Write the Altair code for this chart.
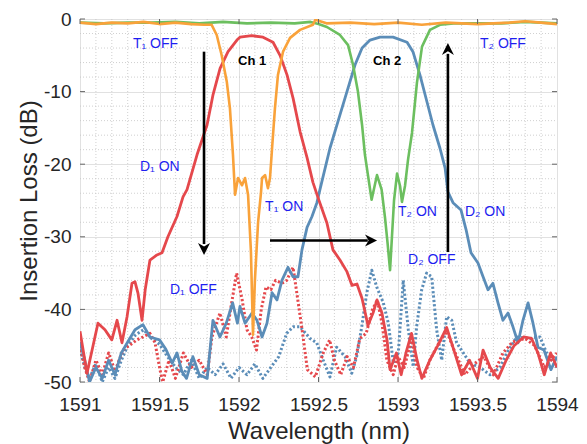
import altair as alt
import pandas as pd

# ---------------- data ----------------
# D1 ON (red solid)
d1on_x = [1591.000, 1591.044, 1591.082, 1591.113, 1591.157, 1591.200, 1591.233, 1591.264, 1591.296,
          1591.327, 1591.346, 1591.365, 1591.390, 1591.410, 1591.440, 1591.484, 1591.516, 1591.553,
          1591.610, 1591.648, 1591.673, 1591.736, 1591.799, 1591.836, 1591.881, 1591.931, 1591.987,
          1592.006, 1592.080, 1592.151, 1592.214, 1592.258, 1592.302, 1592.340, 1592.384, 1592.428,
          1592.465, 1592.497, 1592.553, 1592.591, 1592.635, 1592.679, 1592.711, 1592.742, 1592.774,
          1592.811, 1592.843, 1592.868, 1592.899, 1592.931, 1592.950, 1592.990, 1593.020, 1593.050,
          1593.085, 1593.120, 1593.150, 1593.200, 1593.250, 1593.306, 1593.350, 1593.400, 1593.450,
          1593.500, 1593.535, 1593.580, 1593.630, 1593.680, 1593.730, 1593.790, 1593.840, 1593.880,
          1593.920, 1593.960, 1594.000]
d1on_y = [-43.0, -48.8, -45.0, -41.9, -42.8, -44.2, -41.5, -44.6, -41.0,
          -36.4, -36.2, -37.8, -41.5, -37.3, -33.2, -32.5, -32.2, -30.0,
          -27.2, -24.5, -23.5, -18.7, -14.6, -10.5, -6.8, -4.5, -2.9,
          -2.5, -2.3, -2.5, -3.2, -5.0, -7.7, -10.9, -15.5, -19.1,
          -22.5, -24.6, -28.1, -31.8, -33.2, -34.8, -36.7, -36.5, -38.5,
          -42.2, -40.5, -38.7, -40.5, -44.2, -48.3, -46.0, -49.0, -46.0,
          -43.3, -47.0, -49.5, -47.0, -45.0, -42.5, -45.5, -49.0, -47.0,
          -49.5, -45.6, -48.0, -49.5, -47.0, -45.0, -43.8, -44.0, -46.0,
          -49.0, -46.0, -48.0]

# D1 OFF (red dotted)
d1off_x = [1591.000, 1591.030, 1591.060, 1591.100, 1591.140, 1591.180, 1591.220, 1591.270, 1591.358,
           1591.396, 1591.440, 1591.472, 1591.503, 1591.520, 1591.560, 1591.600, 1591.650, 1591.700,
           1591.750, 1591.800, 1591.830, 1591.880, 1591.920, 1591.950, 1591.985, 1592.020, 1592.050,
           1592.080, 1592.110, 1592.140, 1592.170, 1592.200, 1592.230, 1592.270, 1592.300, 1592.340,
           1592.370, 1592.400, 1592.430, 1592.480, 1592.530, 1592.570, 1592.600, 1592.640, 1592.680,
           1592.720, 1592.760, 1592.800, 1592.840, 1592.870, 1592.900, 1592.930, 1592.970, 1593.000,
           1593.040, 1593.085, 1593.120, 1593.160, 1593.200, 1593.260, 1593.306, 1593.360, 1593.420,
           1593.480, 1593.540, 1593.600, 1593.660, 1593.720, 1593.800, 1593.860, 1593.920, 1594.000]
d1off_y = [-45.0, -48.0, -50.0, -47.0, -49.0, -46.0, -48.5, -45.6, -44.2,
           -43.8, -43.3, -44.6, -48.3, -50.0, -47.0, -49.5, -46.0, -48.0,
           -47.0, -49.0, -43.8, -40.5, -43.8, -39.6, -35.0, -38.7, -42.8,
           -43.8, -45.6, -40.0, -36.9, -37.3, -36.0, -36.4, -36.0, -34.2,
           -38.7, -43.3, -48.3, -49.3, -46.0, -44.2, -47.0, -49.0, -46.5,
           -48.0, -44.0, -43.3, -40.0, -38.7, -42.0, -47.0, -49.0, -46.5,
           -48.0, -44.0, -48.0, -49.5, -47.0, -44.5, -43.0, -46.0, -49.0,
           -47.5, -46.5, -49.0, -46.0, -44.5, -44.0, -45.0, -48.0, -46.0]

# D2 ON (blue solid)
d2on_x = [1591.000, 1591.030, 1591.060, 1591.100, 1591.140, 1591.180, 1591.220, 1591.260, 1591.300,
          1591.346, 1591.396, 1591.440, 1591.500, 1591.540, 1591.580, 1591.610, 1591.640, 1591.670,
          1591.710, 1591.750, 1591.800, 1591.836, 1591.880, 1591.920, 1591.960, 1591.990, 1592.006,
          1592.038, 1592.082, 1592.113, 1592.145, 1592.176, 1592.208, 1592.239, 1592.270, 1592.308,
          1592.340, 1592.371, 1592.396, 1592.428, 1592.459, 1592.490, 1592.509, 1592.572, 1592.635,
          1592.679, 1592.730, 1592.774, 1592.824, 1592.887, 1592.969, 1593.057, 1593.094, 1593.138,
          1593.182, 1593.220, 1593.264, 1593.296, 1593.314, 1593.346, 1593.396, 1593.428, 1593.459,
          1593.503, 1593.535, 1593.566, 1593.597, 1593.629, 1593.660, 1593.692, 1593.723, 1593.755,
          1593.786, 1593.818, 1593.849, 1593.880, 1593.918, 1593.962, 1594.000]
d2on_y = [-44.5, -47.0, -50.0, -48.0, -49.5, -47.0, -49.0, -46.0, -44.5,
          -42.8, -42.1, -43.8, -44.2, -45.5, -47.4, -46.0, -48.5, -49.5,
          -46.5, -49.0, -49.5, -41.5, -43.8, -41.9, -39.1, -41.9, -39.6,
          -41.9, -40.5, -41.5, -43.8, -41.9, -37.7, -38.7, -36.0, -34.2,
          -35.5, -35.5, -31.8, -28.7, -27.2, -25.3, -23.5, -17.8, -13.2,
          -10.0, -6.3, -4.0, -2.9, -2.5, -2.5, -3.2, -4.5, -7.7,
          -11.4, -14.6, -17.8, -20.5, -23.8, -25.3, -26.3, -29.0, -32.2,
          -33.6, -35.5, -37.3, -36.4, -39.1, -41.5, -40.5, -42.4, -44.6,
          -41.5, -39.1, -41.9, -45.2, -45.6, -48.3, -46.5]

# D2 OFF (blue dotted)
d2off_x = [1591.000, 1591.030, 1591.060, 1591.100, 1591.140, 1591.180, 1591.220, 1591.260, 1591.300,
           1591.350, 1591.400, 1591.450, 1591.500, 1591.550, 1591.600, 1591.650, 1591.700, 1591.750,
           1591.800, 1591.850, 1591.900, 1591.950, 1592.000, 1592.050, 1592.100, 1592.150, 1592.200,
           1592.250, 1592.300, 1592.340, 1592.384, 1592.447, 1592.489, 1592.530, 1592.572, 1592.614,
           1592.667, 1592.709, 1592.740, 1592.772, 1592.803, 1592.835, 1592.866, 1592.908, 1592.939,
           1592.971, 1593.002, 1593.033, 1593.065, 1593.096, 1593.117, 1593.149, 1593.180, 1593.212,
           1593.243, 1593.275, 1593.306, 1593.338, 1593.369, 1593.411, 1593.453, 1593.516, 1593.579,
           1593.642, 1593.684, 1593.746, 1593.830, 1593.893, 1593.935, 1594.000]
d2off_y = [-45.5, -48.0, -49.5, -47.5, -50.0, -48.0, -49.5, -47.0, -45.0,
           -43.5, -42.8, -44.0, -44.8, -46.5, -48.0, -49.0, -47.0, -49.5,
           -48.0, -49.0, -47.5, -49.5, -48.0, -49.0, -47.5, -49.5, -48.0,
           -46.5, -43.3, -42.4, -42.4, -44.0, -44.6, -47.0, -49.3, -45.2,
           -46.5, -48.8, -46.5, -42.4, -37.8, -34.6, -36.9, -39.1, -41.9,
           -47.4, -46.0, -36.0, -42.8, -47.9, -42.4, -37.3, -35.0, -35.5,
           -42.8, -47.0, -41.0, -41.5, -44.6, -46.0, -47.4, -48.0, -49.0,
           -48.0, -46.0, -43.8, -44.0, -43.8, -46.0, -48.0]

# T1 (orange)
t1_x = [1591.00, 1591.10, 1591.20, 1591.30, 1591.40, 1591.50, 1591.60, 1591.70, 1591.78,
        1591.828, 1591.860, 1591.891, 1591.923, 1591.943, 1591.962, 1591.975, 1591.994, 1592.019,
        1592.038, 1592.057, 1592.075, 1592.088, 1592.100, 1592.120, 1592.138, 1592.145, 1592.164,
        1592.182, 1592.195, 1592.208, 1592.226, 1592.245, 1592.277, 1592.321, 1592.384, 1592.465,
        1592.480, 1592.550, 1592.700, 1592.850, 1593.000, 1593.150, 1593.300, 1593.500, 1593.700,
        1593.800, 1593.900, 1594.000]
t1_y = [-0.5, -0.7, -0.5, -0.6, -0.4, -0.7, -0.5, -0.7, -0.8,
        -0.8, -2.2, -5.0, -8.6, -12.3, -18.7, -24.2, -21.9, -22.9,
        -21.9, -24.2, -32.0, -43.5, -36.0, -28.0, -24.0, -21.9, -21.5,
        -23.3, -21.9, -17.8, -12.3, -7.7, -4.5, -2.6, -1.5, -0.8,
        -0.1, -0.6, -0.5, -0.7, -0.5, -0.8, -0.5, -0.7, -0.5,
        -0.3, -0.5, -0.7]

# T2 (green)
t2_x = [1591.00, 1591.15, 1591.30, 1591.45, 1591.60, 1591.75, 1591.90, 1592.05, 1592.20,
        1592.35, 1592.45, 1592.50, 1592.553, 1592.635, 1592.686, 1592.717, 1592.748, 1592.774,
        1592.792, 1592.811, 1592.834, 1592.868, 1592.897, 1592.918, 1592.935, 1592.950, 1592.962,
        1592.975, 1592.994, 1593.013, 1593.025, 1593.044, 1593.063, 1593.088, 1593.119, 1593.151,
        1593.201, 1593.264, 1593.350, 1593.500, 1593.650, 1593.800, 1593.900, 1594.000]
t2_y = [-0.5, -0.6, -0.5, -0.5, -0.4, -0.6, -0.4, -0.6, -0.5,
        -0.6, -0.4, -0.7, -1.1, -2.2, -3.6, -6.3, -10.0, -14.6,
        -18.7, -21.5, -24.9, -21.5, -23.5, -27.3, -31.0, -34.6, -30.0,
        -25.0, -21.3, -23.0, -25.2, -23.0, -19.4, -15.7, -8.8, -3.8,
        -1.5, -0.8, -0.6, -0.6, -0.6, -0.4, -0.5, -0.6]

# annotations
label_text = ["T\u2081 OFF", "T\u2082 OFF", "D\u2081 ON", "T\u2081 ON", "T\u2082 ON",
              "D\u2082 ON", "D\u2081 OFF", "D\u2082 OFF"]
label_x = [1591.333, 1593.516, 1591.377, 1592.164, 1593.000, 1593.421, 1591.566, 1593.063]
label_y = [-3.4, -3.4, -20.4, -25.9, -26.6, -26.6, -37.3, -33.2]

ch_text = ["Ch 1", "Ch 2"]
ch_x = [1591.994, 1592.843]
ch_y = [-5.8, -5.8]

# arrows: shaft start, shaft end, head tip
arrow_x0 = [1591.78, 1592.195, 1593.314]
arrow_y0 = [-4.5, -30.5, -32.1]
arrow_x1 = [1591.78, 1592.810, 1593.314]
arrow_y1 = [-31.0, -30.5, -4.8]
tip_x = [1591.78, 1592.868, 1593.314]
tip_y = [-32.5, -30.5, -3.3]

x_major = [1591, 1591.5, 1592, 1592.5, 1593, 1593.5, 1594]
y_major = [-50, -40, -30, -20, -10, 0]
x_minor = [round(1591 + 0.1 * i, 1) for i in range(31) if i % 5 != 0]
y_minor = [-2 * i for i in range(26) if i % 5 != 0]

# ---------------- chart ----------------
W, H = 477, 363
FONT = "Liberation Sans"
TXT = "#262626"

xs = alt.Scale(domain=[1591, 1594], nice=False, zero=False)
ys = alt.Scale(domain=[-50, 0], nice=False, zero=False)

X = alt.X("wl:Q", scale=xs, title="Wavelength (nm)",
          axis=alt.Axis(values=x_major, grid=True, gridColor="#e1e1e1", gridWidth=1,
                        ticks=False, domain=False, labelFontSize=19, labelColor=TXT,
                        labelFont=FONT, labelPadding=13, labelFlush=False, labelOverlap=False,
                        labelExpr="'' + datum.value", titleFontSize=24, titleFont=FONT,
                        titleFontWeight="normal", titleColor=TXT, titlePadding=5))
Y = alt.Y("il:Q", scale=ys, title="Insertion Loss (dB)",
          axis=alt.Axis(values=y_major, grid=True, gridColor="#e1e1e1", gridWidth=1,
                        ticks=False, domain=False, labelFontSize=19, labelColor=TXT,
                        labelFont=FONT, labelPadding=9, labelFlush=False, labelOverlap=False,
                        labelExpr="'' + datum.value", titleFontSize=24, titleFont=FONT,
                        titleFontWeight="normal", titleColor=TXT, titlePadding=2))


def series(xv, yv):
    return pd.DataFrame({"wl": xv, "il": yv, "o": list(range(len(xv)))})


def line(xv, yv, color, dash=None, width=2.5):
    kw = dict(color=color, strokeWidth=width, clip=True, strokeJoin="round")
    if dash:
        kw["strokeDash"] = dash
        kw["strokeCap"] = "butt"
    return alt.Chart(series(xv, yv)).mark_line(**kw).encode(x=X, y=Y, order="o:Q")


minor_v = alt.Chart(pd.DataFrame({"wl": x_minor})).mark_rule(
    color="#c4c4c4", strokeWidth=0.8, strokeDash=[1, 2]).encode(
    x=X, y=alt.value(0), y2=alt.value(H))
minor_h = alt.Chart(pd.DataFrame({"il": y_minor})).mark_rule(
    color="#c4c4c4", strokeWidth=0.8, strokeDash=[1, 2]).encode(
    y=Y, x=alt.value(0), x2=alt.value(W))

tick_c = "#666666"
ticks_l = alt.Chart(pd.DataFrame({"il": y_major})).mark_rule(color=tick_c, strokeWidth=1).encode(
    y=Y, x=alt.value(0), x2=alt.value(5))
ticks_r = alt.Chart(pd.DataFrame({"il": y_major})).mark_rule(color=tick_c, strokeWidth=1).encode(
    y=Y, x=alt.value(W - 5), x2=alt.value(W))
ticks_b = alt.Chart(pd.DataFrame({"wl": x_major})).mark_rule(color=tick_c, strokeWidth=1).encode(
    x=X, y=alt.value(H - 5), y2=alt.value(H))
ticks_t = alt.Chart(pd.DataFrame({"wl": x_major})).mark_rule(color=tick_c, strokeWidth=1).encode(
    x=X, y=alt.value(0), y2=alt.value(5))

RED = "#e5484c"
BLUE = "#5b8db8"
ORANGE = "#f9a23a"
GREEN = "#6cbf5f"
DOT = [2.2, 2.2]

l_d2off = line(d2off_x, d2off_y, BLUE, dash=DOT, width=3.0)
l_d1off = line(d1off_x, d1off_y, RED, dash=DOT, width=3.0)
l_d2on = line(d2on_x, d2on_y, BLUE, width=2.8)
l_d1on = line(d1on_x, d1on_y, RED, width=2.8)
l_t2 = line(t2_x, t2_y, GREEN, width=2.6)
l_t1 = line(t1_x, t1_y, ORANGE, width=2.6)

arr_df = pd.DataFrame({"wl": arrow_x0, "il": arrow_y0, "wl2": arrow_x1, "il2": arrow_y1})
shafts = alt.Chart(arr_df).mark_rule(color="black", strokeWidth=2.6).encode(
    x=X, y=Y, x2="wl2:Q", y2="il2:Q")

HEAD_DOWN = "M0,0 L-1,-2 L0,-1.4 L1,-2 Z"
HEAD_RIGHT = "M0,0 L-2,-1 L-1.4,0 L-2,1 Z"
HEAD_UP = "M0,0 L-1,2 L0,1.4 L1,2 Z"
heads = []
for i, shape in enumerate([HEAD_DOWN, HEAD_RIGHT, HEAD_UP]):
    heads.append(
        alt.Chart(pd.DataFrame({"wl": [tip_x[i]], "il": [tip_y[i]]})).mark_point(
            shape=shape, filled=True, color="black", opacity=1, size=144, strokeWidth=0
        ).encode(x=X, y=Y)
    )

labels = alt.Chart(pd.DataFrame({"wl": label_x, "il": label_y, "t": label_text})).mark_text(
    align="left", baseline="middle", fontSize=14, font=FONT, color="#1e1ef0").encode(
    x=X, y=Y, text="t:N")
chs = alt.Chart(pd.DataFrame({"wl": ch_x, "il": ch_y, "t": ch_text})).mark_text(
    align="left", baseline="middle", fontSize=13, font=FONT, fontWeight="bold", color="black").encode(
    x=X, y=Y, text="t:N")

chart = alt.layer(
    minor_v, minor_h,
    l_d2off, l_d1off, l_d2on, l_d1on, l_t2, l_t1,
    shafts, *heads, labels, chs,
    ticks_l, ticks_r, ticks_b, ticks_t,
).properties(
    width=W, height=H,
    padding={"left": 72, "top": 11, "right": 22, "bottom": 62},
    autosize=alt.AutoSizeParams(type="none"),
    background="white",
).configure_view(stroke="#555555", strokeWidth=1)

chart.save("out.html", embed_options={"renderer": "svg", "actions": False})
